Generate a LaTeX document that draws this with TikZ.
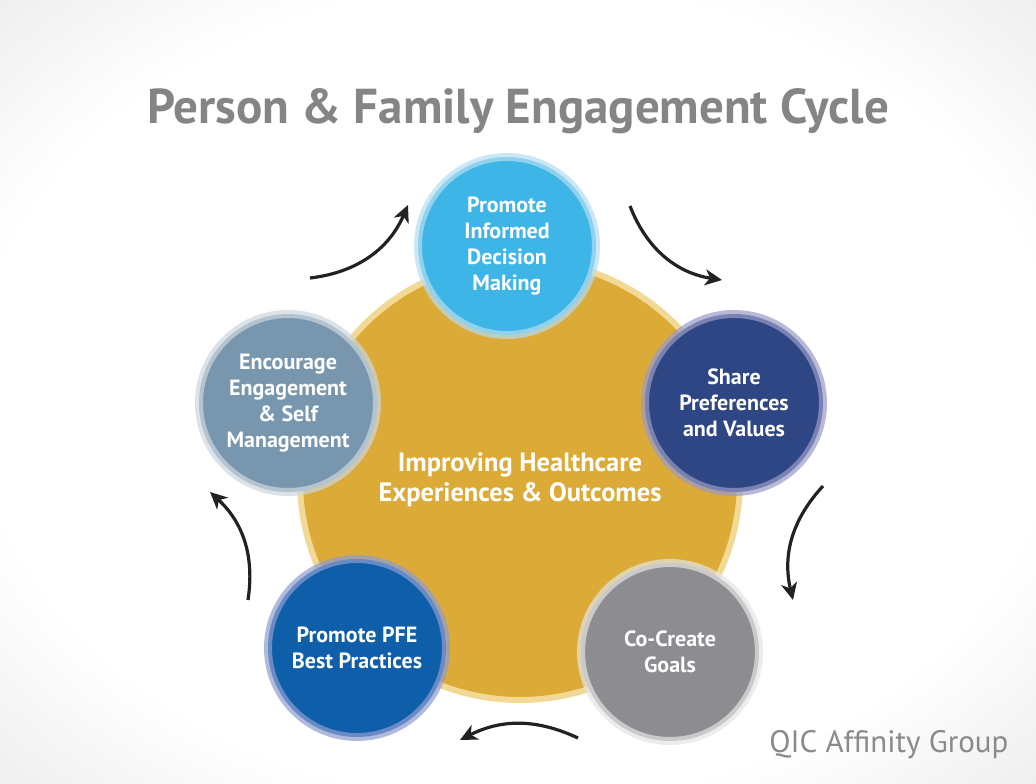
\documentclass[tikz,border=0pt]{standalone}
\usepackage{fontspec}
\setmainfont{PT Sans}
\usetikzlibrary{arrows.meta}
\definecolor{bgedge}{HTML}{D6D6D6}
\definecolor{bgcorner}{HTML}{C4C4C4}
\definecolor{titlegray}{HTML}{858585}
\definecolor{qicgray}{HTML}{8A8A8A}
\definecolor{gold}{HTML}{DCAA36}
\definecolor{goldrim}{HTML}{F2DA96}
\definecolor{topc}{HTML}{3DB5E6}
\definecolor{toprim}{HTML}{B4DDF2}
\definecolor{rightc}{HTML}{2F4684}
\definecolor{rightrim}{HTML}{9A9CC8}
\definecolor{brc}{HTML}{8D8D91}
\definecolor{brrim}{HTML}{E4E4E4}
\definecolor{blc}{HTML}{0F5EA9}
\definecolor{blrim}{HTML}{8E9ED2}
\definecolor{leftc}{HTML}{7897AF}
\definecolor{leftrim}{HTML}{CDD7DF}
\definecolor{arrowc}{HTML}{222222}
\pgfdeclareradialshading{pagebg}{\pgfpoint{0bp}{0bp}}{%
  color(0bp)=(white); color(26bp)=(white); color(50bp)=(bgedge); color(72bp)=(bgcorner)}
\tikzset{
  stage/.style={circle, minimum size=178pt, inner sep=0pt, line width=8pt,
    draw opacity=0.7, align=center, text=white,
    font=\bfseries\fontsize{22}{26}\selectfont},
  hubstyle/.style={circle, minimum size=440pt, inner sep=0pt, fill=gold,
    draw=goldrim, line width=6pt, align=center, text=white,
    font=\bfseries\fontsize{26.5}{30}\selectfont},
  cyclearrow/.style={draw=arrowc, line width=3.2pt,
    -{Stealth[length=17pt, width=16pt, inset=5pt]}}
}
\begin{document}
\begin{tikzpicture}[x=1pt, y=-1pt]
\useasboundingbox (0,0) rectangle (1036,784);
\shade[shading=pagebg] (0,0) rectangle (1036,784);

\node[font=\bfseries\fontsize{49}{58}\selectfont, text=titlegray] (title) at (518,111) {Person \& Family Engagement Cycle};

\node[hubstyle] (hub) at (520,480) {Improving Healthcare\\Experiences \& Outcomes};

\node[stage, fill=topc, draw=toprim] (inform) at (507,246) {Promote\\Informed\\Decision\\Making};
\node[stage, fill=rightc, draw=rightrim] (share) at (734,403) {Share\\Preferences\\and Values};
\node[stage, fill=brc, draw=brrim] (goals) at (670,652) {Co-Create\\Goals};
\node[stage, fill=blc, draw=blrim] (best) at (357,648) {Promote PFE\\Best Practices};
\node[stage, fill=leftc, draw=leftrim] (engage) at (288,403) {Encourage\\Engagement\\\& Self\\Management};

\coordinate (a1s) at (310,278);
\coordinate (a1e) at (408,205);
\coordinate (a2s) at (630,206);
\coordinate (a2e) at (722,280);
\coordinate (a3s) at (823,486);
\coordinate (a3e) at (793,600);
\coordinate (a4s) at (578,738);
\coordinate (a4e) at (460,740);
\coordinate (a5s) at (248,600);
\coordinate (a5e) at (210,492);
\draw[cyclearrow] (a1s) to[bend right=30] (a1e);
\draw[cyclearrow] (a2s) to[bend right=30] (a2e);
\draw[cyclearrow] (a3s) to[bend right=28] (a3e);
\draw[cyclearrow] (a4s) to[bend right=26] (a4e);
\draw[cyclearrow] (a5s) to[bend right=28] (a5e);

\node[anchor=base east, font=\fontsize{31}{36}\selectfont, text=qicgray] (qic) at (1012,752) {QIC Affinity Group};
\end{tikzpicture}
\end{document}
